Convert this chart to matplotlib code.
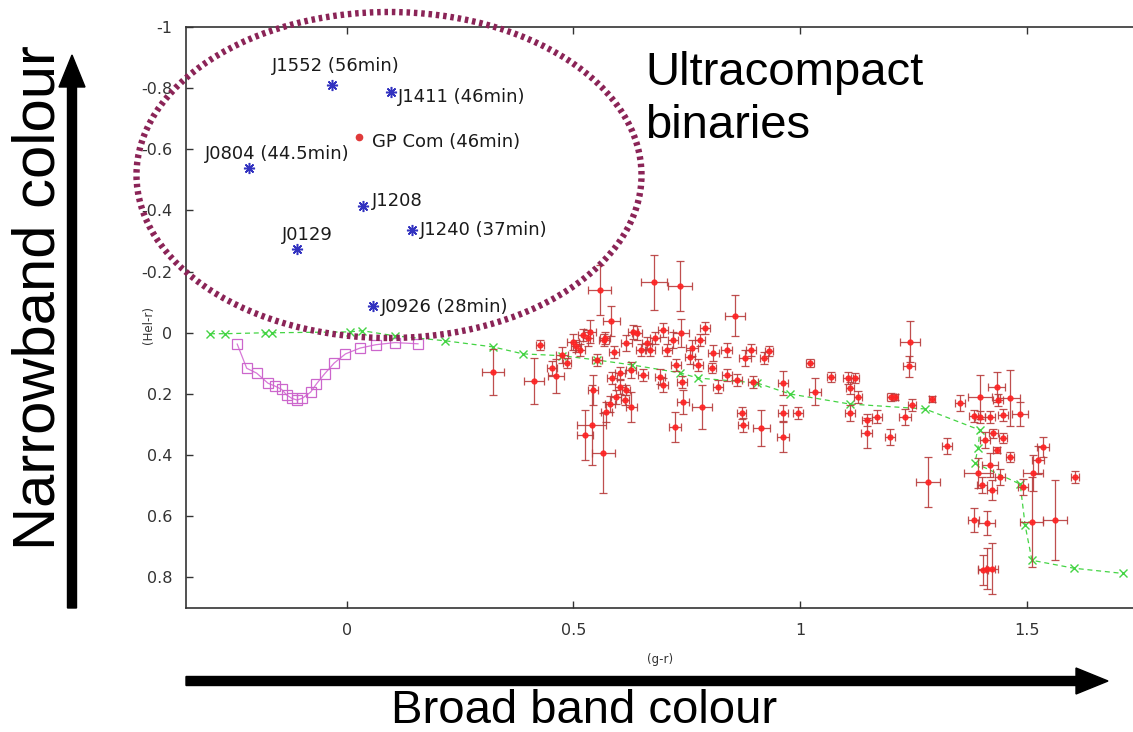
import matplotlib
matplotlib.use("Agg")
import matplotlib.pyplot as plt
from matplotlib.patches import Ellipse, FancyArrow
from matplotlib.transforms import IdentityTransform

plt.rcParams['axes.unicode_minus'] = False
plt.rcParams['font.family'] = ['DejaVu Sans']

# ---------------- data ----------------
# Ultracompact binaries (blue asterisks)
ucb_names = ["J1552 (56min)", "J1411 (46min)", "J0804 (44.5min)", "J1208",
             "J1240 (37min)", "J0129", "J0926 (28min)"]
ucb_x = [-0.032, 0.097, -0.217, 0.036, 0.144, -0.111, 0.057]
ucb_y = [-0.811, -0.787, -0.538, -0.413, -0.335, -0.274, -0.089]

gpcom_name = "GP Com (46min)"
gpcom_x = [0.026]
gpcom_y = [-0.639]

# Main-sequence model track (green)
ms_x = [-0.302, -0.269, -0.181, -0.166, 0.007, 0.033, 0.106, 0.216, 0.322, 0.389,
        0.475, 0.552, 0.629, 0.735, 0.775, 0.905, 0.978, 1.110, 1.276, 1.397,
        1.393, 1.386, 1.486, 1.497, 1.512, 1.605, 1.713]
ms_y = [0.003, 0.003, 0.0, 0.0, -0.003, -0.007, 0.010, 0.026, 0.046, 0.069,
        0.075, 0.089, 0.105, 0.131, 0.148, 0.164, 0.200, 0.233, 0.249, 0.318,
        0.377, 0.426, 0.495, 0.630, 0.744, 0.770, 0.787]

# White-dwarf / blackbody track (magenta squares)
wd_x = [-0.242, -0.221, -0.199, -0.174, -0.159, -0.144, -0.133, -0.122, -0.110,
        -0.098, -0.080, -0.067, -0.049, -0.028, -0.003, 0.029, 0.064, 0.106, 0.157]
wd_y = [0.037, 0.116, 0.132, 0.165, 0.174, 0.185, 0.203, 0.214, 0.220,
        0.214, 0.194, 0.167, 0.134, 0.099, 0.069, 0.050, 0.039, 0.032, 0.036]

# Field stars with error bars (red)
star_x = [0.322, 0.413, 0.461, 0.452, 0.485, 0.474, 0.499, 0.558, 0.584, 0.536,
          0.551, 0.544, 0.525, 0.540, 0.566, 0.573, 0.595, 0.603, 0.532, 0.514,
          0.617, 0.640, 0.662, 0.669, 0.603, 0.628, 0.654, 0.581, 0.628, 0.678,
          0.735, 0.737, 0.857, 0.790, 0.632, 0.698, 0.706, 0.761, 0.809, 0.838,
          0.879, 0.893, 0.838, 0.820, 0.860, 0.897, 0.691, 0.698, 0.742, 0.783,
          0.724, 0.871, 0.875, 0.915, 0.757, 0.779, 0.739, 0.963, 0.963, 0.963,
          0.996, 1.033, 1.022, 1.243, 1.241, 1.068, 1.107, 1.121, 1.110, 1.129,
          1.110, 1.147, 1.169, 1.147, 1.202, 1.210, 1.199, 1.232, 1.247, 1.291,
          1.324, 1.283, 1.353, 1.397, 1.434, 1.464, 1.438, 1.383, 1.397, 1.419,
          1.449, 1.486, 1.427, 1.449, 1.408, 1.434, 1.464, 1.419, 1.394, 1.442,
          1.401, 1.423, 1.493, 1.537, 1.526, 1.515, 1.607, 1.383, 1.412, 1.511,
          1.563, 1.412, 1.423, 1.405, 0.506, 0.567, 0.589, 0.649, 0.680, 0.720,
          0.726, 0.775, 0.585, 0.616, 0.614, 0.806, 0.932, 0.921, 0.426, 0.521,
          0.570]
star_y = [0.127, 0.157, 0.141, 0.116, 0.099, 0.072, 0.029, -0.141, -0.037, -0.004,
          0.089, 0.187, 0.334, 0.302, 0.394, 0.258, 0.209, 0.176, 0.016, 0.056,
          0.033, 0.000, 0.033, 0.056, 0.131, 0.121, 0.138, 0.233, 0.242, -0.165,
          -0.152, 0.001, -0.056, -0.015, -0.004, -0.010, 0.056, 0.050, 0.067, 0.056,
          0.083, 0.056, 0.138, 0.176, 0.154, 0.160, 0.143, 0.170, 0.225, 0.242,
          0.307, 0.263, 0.302, 0.312, 0.078, 0.023, 0.160, 0.165, 0.263, 0.340,
          0.263, 0.192, 0.099, 0.029, 0.110, 0.145, 0.149, 0.149, 0.181, 0.209,
          0.263, 0.285, 0.274, 0.329, 0.209, 0.209, 0.340, 0.274, 0.236, 0.216,
          0.370, 0.488, 0.230, 0.209, 0.176, 0.214, 0.220, 0.272, 0.276, 0.276,
          0.269, 0.266, 0.329, 0.345, 0.351, 0.384, 0.406, 0.433, 0.460, 0.471,
          0.498, 0.515, 0.504, 0.373, 0.416, 0.460, 0.471, 0.613, 0.622, 0.619,
          0.613, 0.771, 0.771, 0.777, 0.043, 0.023, 0.062, 0.056, 0.016, 0.023,
          0.105, 0.105, 0.148, 0.187, 0.220, 0.115, 0.059, 0.082, 0.039, 0.007,
          0.016]
star_xerr = [0.024, 0.022, 0.018, 0.011, 0.009, 0.013, 0.013, 0.026, 0.018, 0.013,
             0.011, 0.011, 0.018, 0.033, 0.026, 0.013, 0.011, 0.011, 0.011, 0.011,
             0.013, 0.011, 0.011, 0.011, 0.011, 0.011, 0.011, 0.011, 0.013, 0.029,
             0.026, 0.018, 0.022, 0.011, 0.011, 0.011, 0.011, 0.013, 0.013, 0.013,
             0.013, 0.011, 0.011, 0.011, 0.011, 0.011, 0.011, 0.011, 0.013, 0.022,
             0.013, 0.009, 0.011, 0.018, 0.011, 0.011, 0.011, 0.011, 0.011, 0.013,
             0.011, 0.013, 0.009, 0.022, 0.013, 0.009, 0.011, 0.009, 0.009, 0.009,
             0.011, 0.011, 0.011, 0.013, 0.009, 0.007, 0.011, 0.013, 0.009, 0.007,
             0.011, 0.026, 0.011, 0.026, 0.018, 0.022, 0.011, 0.011, 0.011, 0.011,
             0.011, 0.018, 0.009, 0.009, 0.011, 0.007, 0.009, 0.018, 0.031, 0.011,
             0.011, 0.011, 0.011, 0.013, 0.013, 0.022, 0.009, 0.013, 0.018, 0.026,
             0.026, 0.018, 0.013, 0.011, 0.011, 0.011, 0.011, 0.011, 0.011, 0.011,
             0.011, 0.011, 0.011, 0.009, 0.009, 0.009, 0.009, 0.009, 0.009, 0.011,
             0.011]
star_yerr = [0.075, 0.075, 0.056, 0.023, 0.016, 0.026, 0.026, 0.082, 0.049, 0.039,
             0.020, 0.049, 0.082, 0.131, 0.131, 0.033, 0.023, 0.023, 0.026, 0.020,
             0.026, 0.023, 0.020, 0.020, 0.020, 0.026, 0.020, 0.026, 0.049, 0.089,
             0.082, 0.046, 0.066, 0.020, 0.023, 0.023, 0.020, 0.026, 0.026, 0.023,
             0.026, 0.020, 0.020, 0.020, 0.020, 0.020, 0.026, 0.023, 0.039, 0.072,
             0.049, 0.020, 0.023, 0.059, 0.023, 0.020, 0.020, 0.039, 0.026, 0.049,
             0.020, 0.043, 0.013, 0.066, 0.033, 0.016, 0.020, 0.016, 0.020, 0.020,
             0.026, 0.020, 0.020, 0.049, 0.013, 0.010, 0.026, 0.026, 0.020, 0.010,
             0.026, 0.082, 0.026, 0.072, 0.049, 0.092, 0.020, 0.020, 0.020, 0.020,
             0.020, 0.039, 0.016, 0.016, 0.026, 0.010, 0.016, 0.039, 0.049, 0.026,
             0.026, 0.033, 0.026, 0.033, 0.046, 0.059, 0.020, 0.039, 0.039, 0.148,
             0.131, 0.066, 0.082, 0.049, 0.020, 0.020, 0.020, 0.020, 0.020, 0.026,
             0.020, 0.020, 0.020, 0.016, 0.016, 0.016, 0.016, 0.020, 0.016, 0.020,
             0.020]

x_ticks = [0, 0.5, 1, 1.5]
x_tick_labels = ["0", "0.5", "1", "1.5"]
y_ticks = [-1, -0.8, -0.6, -0.4, -0.2, 0, 0.2, 0.4, 0.6, 0.8]
y_tick_labels = ["-1", "-0.8", "-0.6", "-0.4", "-0.2", "0", "0.2", "0.4", "0.6", "0.8"]

# label offsets (points) for annotations
ucb_offsets = [(-43.7, 13.5), (5, -3.6), (-31.5, 10), (6.3, 4.3), (5.5, 0.5),
               (-10.6, 10.3), (6, -0.7)]
gpcom_offset = (9.4, -3.6)

# ---------------- figure ----------------
W, H = 1133, 732
fig = plt.figure(figsize=(W / 100, H / 100), dpi=100)
fig.patch.set_facecolor('white')
ax = fig.add_axes([186 / W, 124 / H, 947 / W, 581 / H])

ax.plot(wd_x, wd_y, '-', color='#d878d8', lw=0.9, marker='s', ms=6.5,
        mfc='none', mec='#cc66cc', mew=0.9, zorder=2)
ax.plot(ms_x, ms_y, color='#44d444', lw=0.9, ls=(0, (4, 3)), marker='x',
        ms=6, mew=1.0, zorder=2)
ax.errorbar(star_x, star_y, xerr=star_xerr, yerr=star_yerr, fmt='o', ms=3.5,
            mfc='#ff2424', mec='#ff2424', ecolor='#b83c3c', elinewidth=0.9,
            capsize=3, capthick=0.9, zorder=3, alpha=0.9)
ax.plot(ucb_x, ucb_y, ls='none', marker=(8, 2, 0), ms=8, mew=1.1,
        color='#3232c0', zorder=4)
ax.plot(gpcom_x, gpcom_y, ls='none', marker='o', ms=4.5, color='#e03a3a', zorder=4)

lab_kw = dict(textcoords='offset points', fontsize=13, color='#1a1a1a',
              ha='left', va='center', zorder=6)
for name, x, y, off in zip(ucb_names, ucb_x, ucb_y, ucb_offsets):
    ax.annotate(name, (x, y), xytext=off, **lab_kw)
ax.annotate(gpcom_name, (gpcom_x[0], gpcom_y[0]), xytext=gpcom_offset, **lab_kw)

ax.set_xlim(-0.355, 1.735)
ax.set_ylim(0.9, -1.0)
ax.set_xticks(x_ticks)
ax.set_xticklabels(x_tick_labels)
ax.set_yticks(y_ticks)
ax.set_yticklabels(y_tick_labels)
ax.tick_params(axis='both', direction='in', length=5, width=1.0, color='#333333',
               labelsize=11.5, labelcolor='#333333')
ax.tick_params(axis='x', top=True, pad=11)
ax.tick_params(axis='y', right=False, pad=10)
for s in ['left', 'top', 'bottom']:
    ax.spines[s].set_color('#333333')
    ax.spines[s].set_linewidth(1.2)
ax.spines['right'].set_visible(False)

# small axis labels
fig.text(660 / W, 1 - 660 / H, "(g-r)", fontsize=8.5, color='#333333',
         ha='center', va='center')
fig.text(149 / W, 1 - 325 / H, "(Hel-r)", fontsize=8.5, color='#333333',
         ha='center', va='center', rotation=90)

# big annotations
big = ['Liberation Sans', 'DejaVu Sans']
fig.text(0.034, 1 - 298 / H, "Narrowband colour", fontsize=43, family=big,
         rotation=90, ha='center', va='center', color='black')
fig.text(584 / W, (H - 723) / H, "Broad band colour", fontsize=34, family=big,
         ha='center', va='baseline', color='black')
fig.text(645 / W, (H - 85) / H, "Ultracompact", fontsize=34, family=big,
         ha='left', va='baseline', color='black')
fig.text(645 / W, (H - 138) / H, "binaries", fontsize=34, family=big,
         ha='left', va='baseline', color='black')

# arrows (pixel coordinates)
idt = IdentityTransform()
fig.add_artist(FancyArrow(72, H - 608, 0, 553, width=9, head_width=26,
                          head_length=32, length_includes_head=True,
                          color='black', transform=idt))
fig.add_artist(FancyArrow(186, H - 681, 922, 0, width=9, head_width=26,
                          head_length=32, length_includes_head=True,
                          color='black', transform=idt))

# dotted ellipse
fig.add_artist(Ellipse((389, H - 175), 505, 326, fill=False, edgecolor='#8b2457',
                       lw=4.6, ls=(0, (0.55, 0.6)), transform=idt, zorder=10))

fig.savefig("out.png", dpi=100)
